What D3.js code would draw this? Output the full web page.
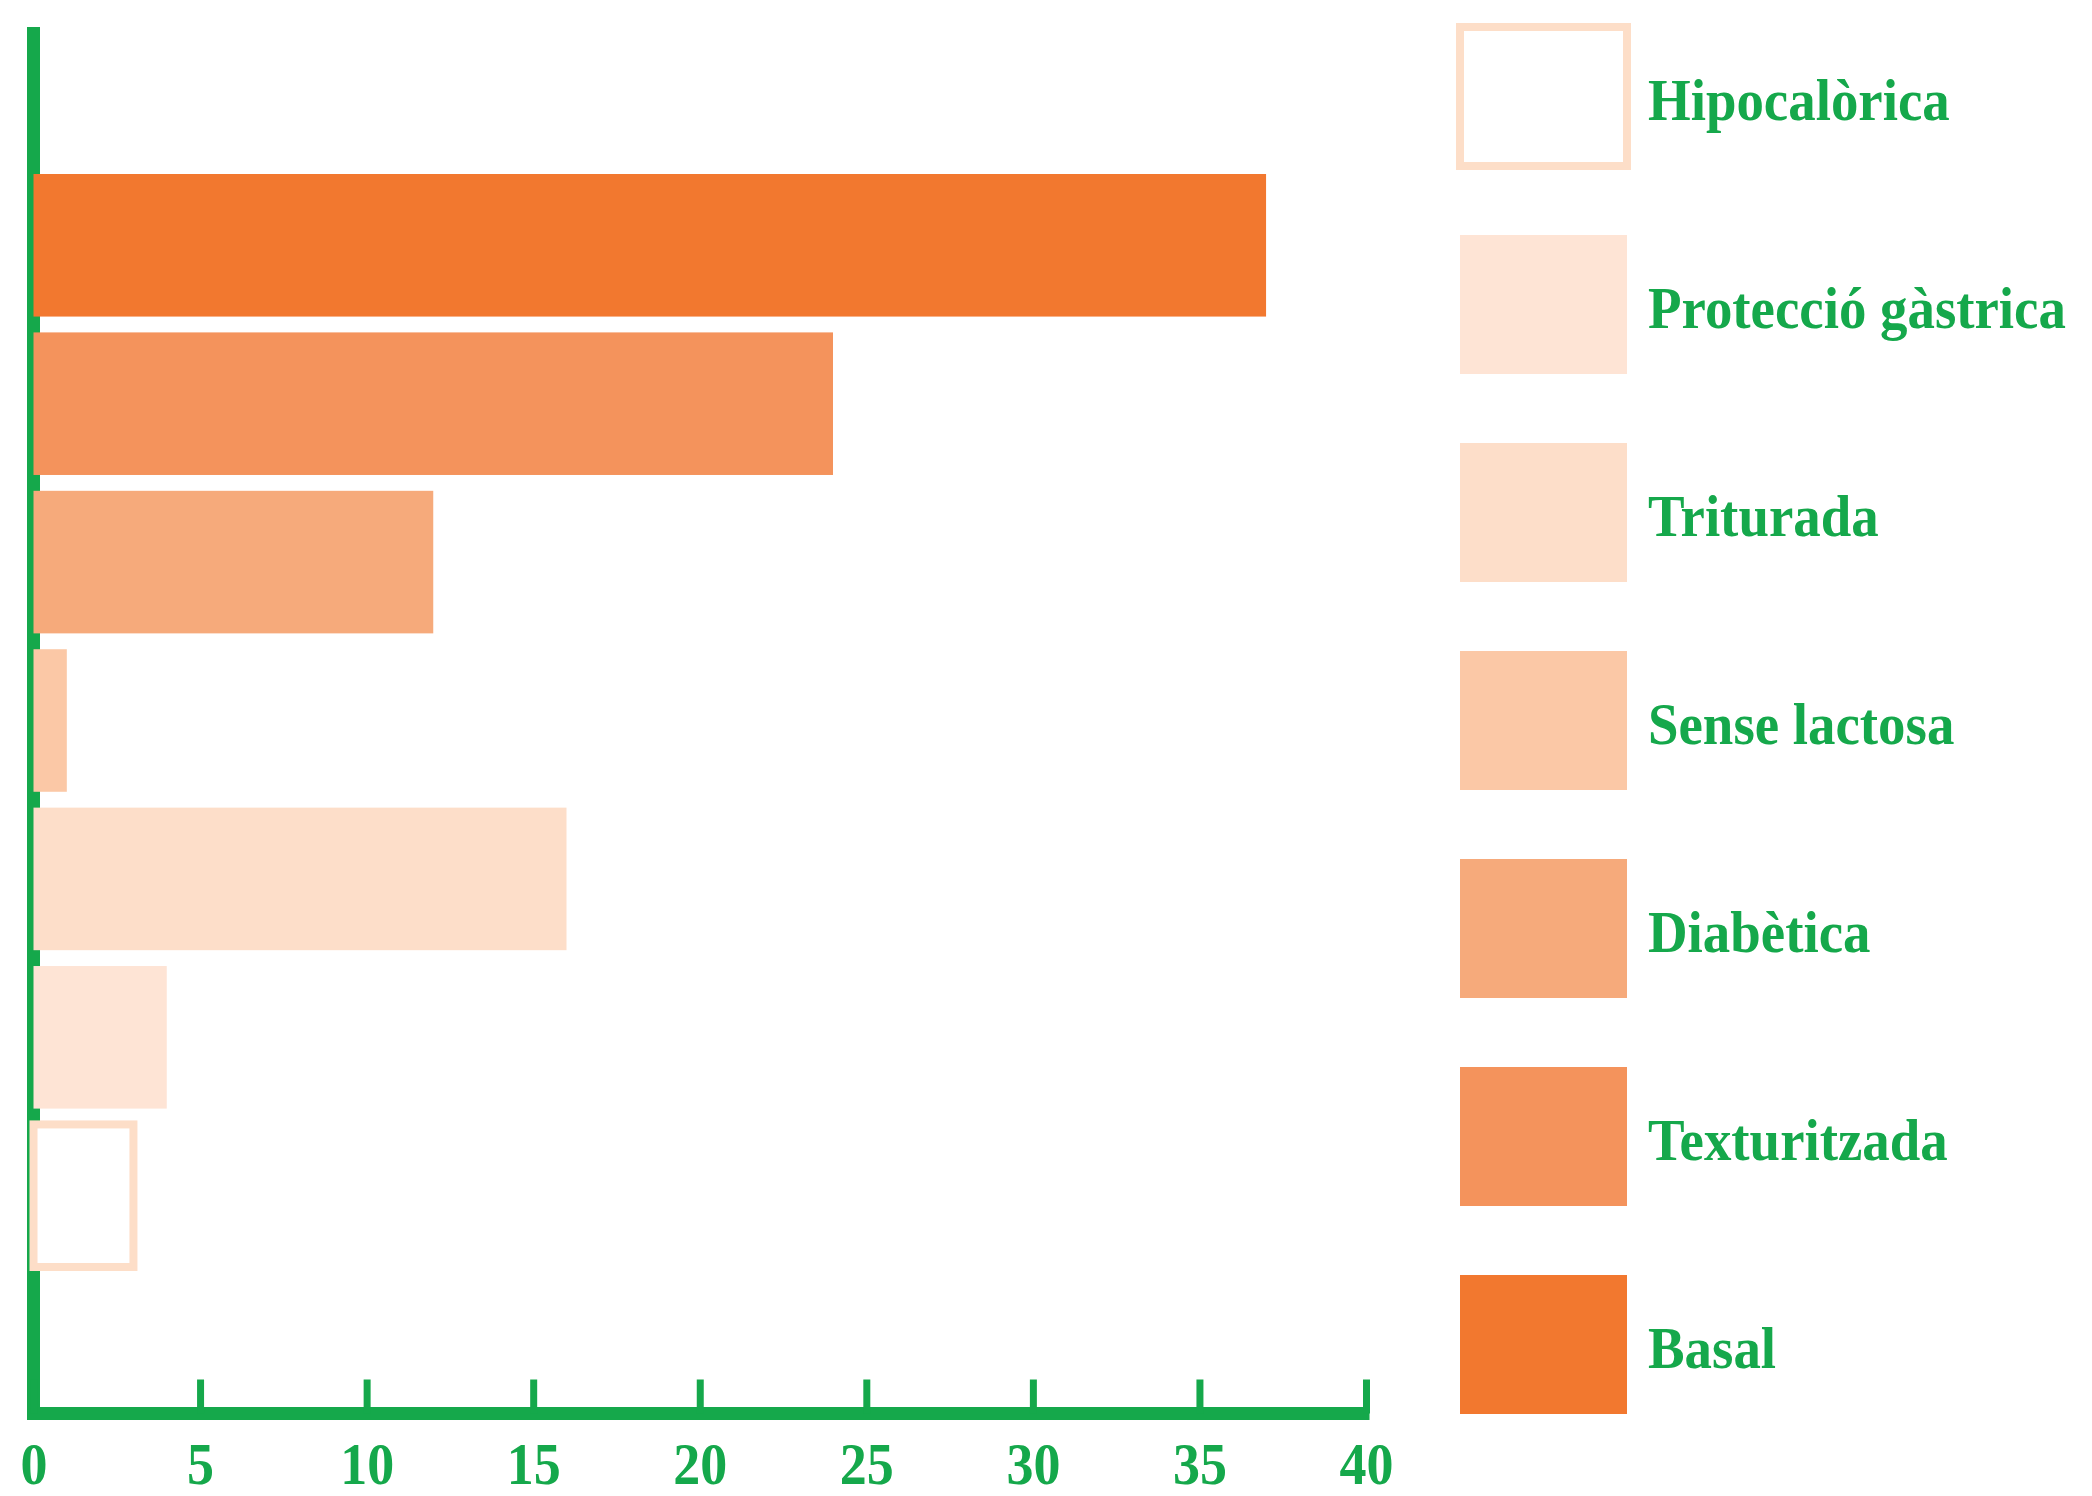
<!DOCTYPE html>
<html>
<head>
<meta charset="utf-8">
<script src="https://cdn.jsdelivr.net/npm/d3@7"></script>
<style>
  body { margin: 0; background: #fff; }
  text { font-family: "Liberation Serif", serif; font-weight: bold; fill: #15a84b; }
</style>
</head>
<body>
<div class="chart"></div>
<script>
var width = 2092;
var height = 1496;

// data, top bar to bottom bar
var categories = ["Basal", "Texturitzada", "Diabètica", "Sense lactosa", "Triturada", "Protecció gàstrica", "Hipocalòrica"];
var values = [37, 24, 12, 1, 16, 4, 3];
var colors = ["#f2782f", "#f4935c", "#f6aa7b", "#fbc8a6", "#fddec9", "#fee4d5", "#fddec8"];
var tickValues = [0, 5, 10, 15, 20, 25, 30, 35, 40];
var green = "#15a84b";

var svg = d3.select(".chart").append("svg")
    .attr("width", width)
    .attr("height", height);

var x = d3.scaleLinear()
    .domain([0, 40])
    .range([33.5, 1366]);

var y = d3.scaleBand()
    .domain(categories)
    .range([174, 1267])
    .paddingInner(0.1)
    .paddingOuter(0);

// vertical axis line
svg.append("line")
    .attr("x1", x(0)).attr("x2", x(0))
    .attr("y1", 27).attr("y2", 1420)
    .attr("stroke", green)
    .attr("stroke-width", 13);

// bottom axis
var xAxis = d3.axisBottom(x)
    .tickValues(tickValues)
    .tickSizeInner(-34)
    .tickSizeOuter(0)
    .tickFormat(d3.format("d"));

var gx = svg.append("g")
    .attr("transform", "translate(0,1413.5)")
    .call(xAxis);

gx.select(".domain")
    .attr("stroke", green)
    .attr("stroke-width", 13)
    .attr("d", "M" + (x(0) - 6.5) + ",0H" + (x(40) + 3.5));
gx.selectAll(".tick line")
    .attr("stroke", green)
    .attr("stroke-width", 7);
gx.selectAll(".tick text")
    .attr("y", 0).attr("dy", null)
    .attr("fill", green)
    .attr("font-size", 60)
    .attr("text-anchor", "middle")
    .attr("transform", "translate(0,70) scale(0.9,1)");

// bars
svg.append("g")
    .attr("class", "bars")
  .selectAll("rect")
  .data(categories)
  .enter().append("rect")
    .attr("x", x(0))
    .attr("y", function(d) { return y(d); })
    .attr("width", function(d, i) { return x(values[i]) - x(0); })
    .attr("height", y.bandwidth())
    .attr("fill", function(d, i) { return d == "Hipocalòrica" ? "#fff" : colors[i]; })
    .attr("stroke", function(d, i) { return d == "Hipocalòrica" ? colors[i] : "none"; })
    .attr("stroke-width", 8);

// legend, reversed order
var legendItems = categories.slice().reverse();
var legendColors = colors.slice().reverse();

var legend = svg.append("g")
    .attr("class", "legend")
  .selectAll("g")
  .data(legendItems)
  .enter().append("g")
    .attr("transform", function(d, i) { return "translate(1460," + (27 + i * 208) + ")"; });

legend.append("rect")
    .attr("width", 167)
    .attr("height", 139)
    .attr("fill", function(d, i) { return d == "Hipocalòrica" ? "#fff" : legendColors[i]; })
    .attr("stroke", function(d, i) { return d == "Hipocalòrica" ? legendColors[i] : "none"; })
    .attr("stroke-width", 8);

legend.append("text")
    .attr("transform", "translate(188,93) scale(0.93,1)")
    .attr("font-size", 59)
    .text(function(d) { return d; });
</script>
</body>
</html>
